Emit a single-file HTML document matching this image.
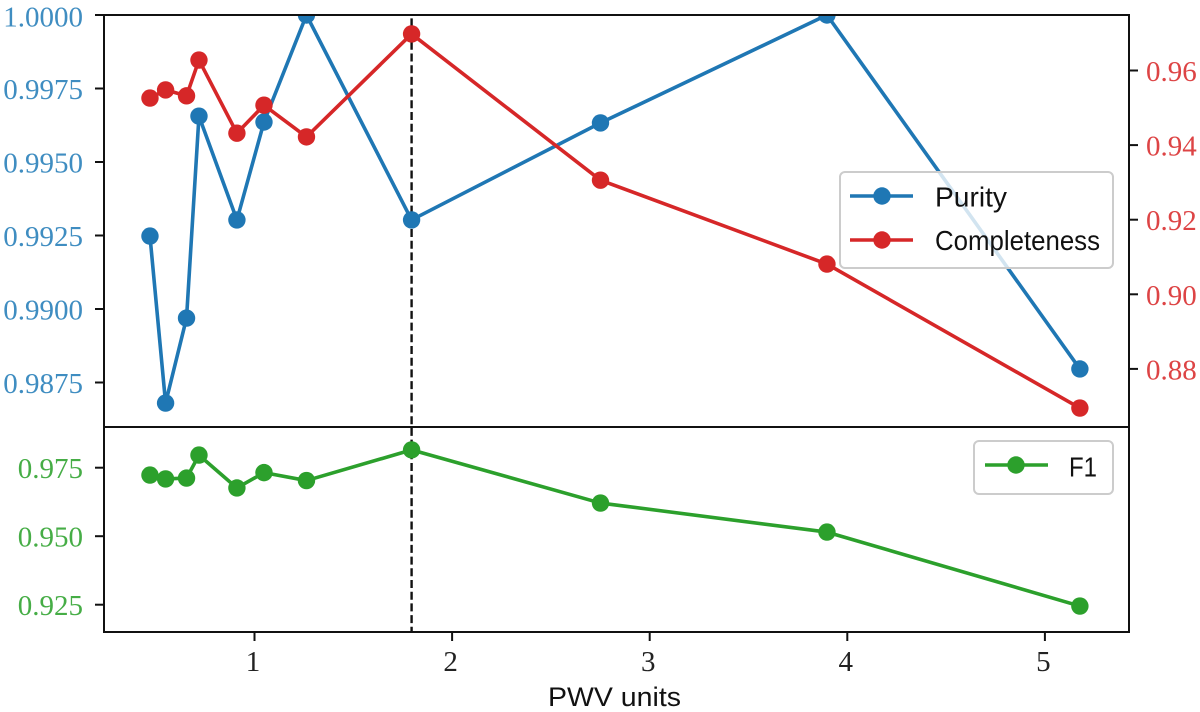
<!DOCTYPE html>
<html>
<head>
<meta charset="utf-8">
<title>Purity, Completeness and F1 vs PWV</title>
<style>
  html, body { margin: 0; padding: 0; background: #fff; }
  svg { display: block; }
  .tick-label { font-family: "Liberation Serif", serif; font-size: 29px; }
  .sans-label { font-family: "Liberation Sans", sans-serif; font-size: 28px; fill: #111; }
</style>
</head>
<body>
<svg id="chart" xmlns="http://www.w3.org/2000/svg" width="1200" height="712" viewBox="0 0 1200 712">
  <defs>
    <clipPath id="top-clip"><rect x="104" y="15" width="1025" height="412"></rect></clipPath>
    <clipPath id="bottom-clip"><rect x="104" y="427" width="1025" height="205"></rect></clipPath>
  </defs>
  <rect x="0" y="0" width="1200" height="712" fill="#ffffff"></rect>
  <g id="top-marks" clip-path="url(#top-clip)"></g>
  <g id="bottom-marks" clip-path="url(#bottom-clip)"></g>
  <g id="axes-ticks"></g>
  <rect x="104" y="15" width="1025" height="412" fill="none" stroke="#111" stroke-width="2"></rect>
  <rect x="104" y="427" width="1025" height="205" fill="none" stroke="#111" stroke-width="2"></rect>

  <g>
    <rect x="840" y="172" width="273" height="96" rx="5" fill="#ffffff" fill-opacity="0.8" stroke="#cccccc" stroke-width="2"></rect>
    <line x1="850" y1="196" x2="913" y2="196" stroke="#1f77b4" stroke-width="3.6"></line>
    <circle cx="882" cy="196" r="8.7" fill="#1f77b4"></circle>
    <text class="sans-label" x="935" y="206.5" textLength="72" lengthAdjust="spacingAndGlyphs">Purity</text>
    <line x1="850" y1="240" x2="913" y2="240" stroke="#d62728" stroke-width="3.6"></line>
    <circle cx="882" cy="240" r="8.7" fill="#d62728"></circle>
    <text class="sans-label" x="935" y="250" textLength="165" lengthAdjust="spacingAndGlyphs">Completeness</text>
  </g>
  <g>
    <rect x="974" y="441" width="139" height="53" rx="5" fill="#ffffff" fill-opacity="0.8" stroke="#cccccc" stroke-width="2"></rect>
    <line x1="985" y1="465" x2="1048" y2="465" stroke="#2ca02c" stroke-width="3.6"></line>
    <circle cx="1016" cy="465" r="8.7" fill="#2ca02c"></circle>
    <text class="sans-label" x="1069" y="476.5" textLength="28" lengthAdjust="spacingAndGlyphs">F1</text>
  </g>
  <text class="sans-label" style="font-size:27px" x="548" y="706" textLength="133" lengthAdjust="spacingAndGlyphs">PWV units</text>
</svg>
<script>
const pwv = [0.471, 0.55, 0.656, 0.719, 0.911, 1.048, 1.263, 1.795, 2.751, 3.897, 5.177];
const purity = [0.99248, 0.9868, 0.98969, 0.99656, 0.99303, 0.99636, 1.0, 0.99303, 0.99633, 1.0, 0.98796];
const completeness = [0.9526, 0.9548, 0.9532, 0.9628, 0.9432, 0.9507, 0.9422, 0.9698, 0.9306, 0.9081, 0.8695];
const f1 = [0.9723, 0.9709, 0.9712, 0.9796, 0.9676, 0.9732, 0.9703, 0.9815, 0.9621, 0.9515, 0.9245];
const optimalPwv = 1.795;
const xTickLabels = ['1', '2', '3', '4', '5'];
const purityTickLabels = ['1.0000', '0.9975', '0.9950', '0.9925', '0.9900', '0.9875'];
const completenessTickLabels = ['0.96', '0.94', '0.92', '0.90', '0.88'];
const f1TickLabels = ['0.975', '0.950', '0.925'];

const SVG_NS = 'http://www.w3.org/2000/svg';
const xScale = v => 254.5 + (v - 1) * 197.6;
const purityScale = v => 15 + (1 - v) / 0.0025 * 73.5;
const completenessScale = v => 219.7 - (v - 0.92) / 0.02 * 74.6;
const f1Scale = v => 467.7 + (0.975 - v) / 0.025 * 68.5;

function make(tag, attrs, parent) {
  const el = document.createElementNS(SVG_NS, tag);
  Object.keys(attrs).forEach(k => el.setAttribute(k, attrs[k]));
  parent.appendChild(el);
  return el;
}

function drawSeries(parent, values, yScale, color, name) {
  const group = make('g', {}, parent);
  
  
  const pts = values.map((v, i) => xScale(pwv[i]).toFixed(2) + ',' + yScale(v).toFixed(2)).join(' ');
  const line = make('polyline', { points: pts, fill: 'none', stroke: color, 'stroke-width': 3.6, 'stroke-linejoin': 'round' }, group);
  
  
  values.forEach((v, i) => {
    const dot = make('circle', { cx: xScale(pwv[i]).toFixed(2), cy: yScale(v).toFixed(2), r: 8.7, fill: color }, group);
    
    
  });
}

function drawYTicks(parent, labels, yScale, side, color, name) {
  labels.forEach(label => {
    const y = yScale(parseFloat(label));
    const x1 = side === 'left' ? 95 : 1129;
    const x2 = side === 'left' ? 104 : 1138;
    const mark = make('line', { x1: x1, x2: x2, y1: y, y2: y, stroke: '#111', 'stroke-width': 2 }, parent);
    
    
    const text = make('text', {
      class: 'tick-label',
      x: side === 'left' ? 83 : 1146,
      y: y + (y < 20 ? 11.5 : 10.5),
      fill: color,
      'text-anchor': side === 'left' ? 'end' : 'start'
    }, parent);
    
    
    text.textContent = label;
  });
}

const chart = document.getElementById('chart');
const topMarks = document.getElementById('top-marks');
const bottomMarks = document.getElementById('bottom-marks');
const tickGroup = document.getElementById('axes-ticks');

const dashed = make('line', { x1: xScale(optimalPwv), x2: xScale(optimalPwv), y1: 15, y2: 632, stroke: '#111', 'stroke-width': 2.4, 'stroke-dasharray': '8 3.7', 'stroke-dashoffset': 8.3 }, chart);


chart.insertBefore(dashed, topMarks);

drawSeries(topMarks, purity, purityScale, '#1f77b4', 'purity');
drawSeries(topMarks, completeness, completenessScale, '#d62728', 'completeness');
drawSeries(bottomMarks, f1, f1Scale, '#2ca02c', 'f1');

drawYTicks(tickGroup, purityTickLabels, purityScale, 'left', '#3f8dc1', 'purity-axis');
drawYTicks(tickGroup, completenessTickLabels, completenessScale, 'right', '#dd4445', 'completeness-axis');
drawYTicks(tickGroup, f1TickLabels, f1Scale, 'left', '#46ad46', 'f1-axis');

xTickLabels.forEach(label => {
  const x = xScale(parseFloat(label));
  const mark = make('line', { x1: x, x2: x, y1: 632, y2: 641, stroke: '#111', 'stroke-width': 2 }, tickGroup);
  
  
  const text = make('text', { class: 'tick-label', x: x - 1.5, y: 671, fill: '#222', 'text-anchor': 'middle' }, tickGroup);
  
  
  text.textContent = label;
});
</script>
</body>
</html>
